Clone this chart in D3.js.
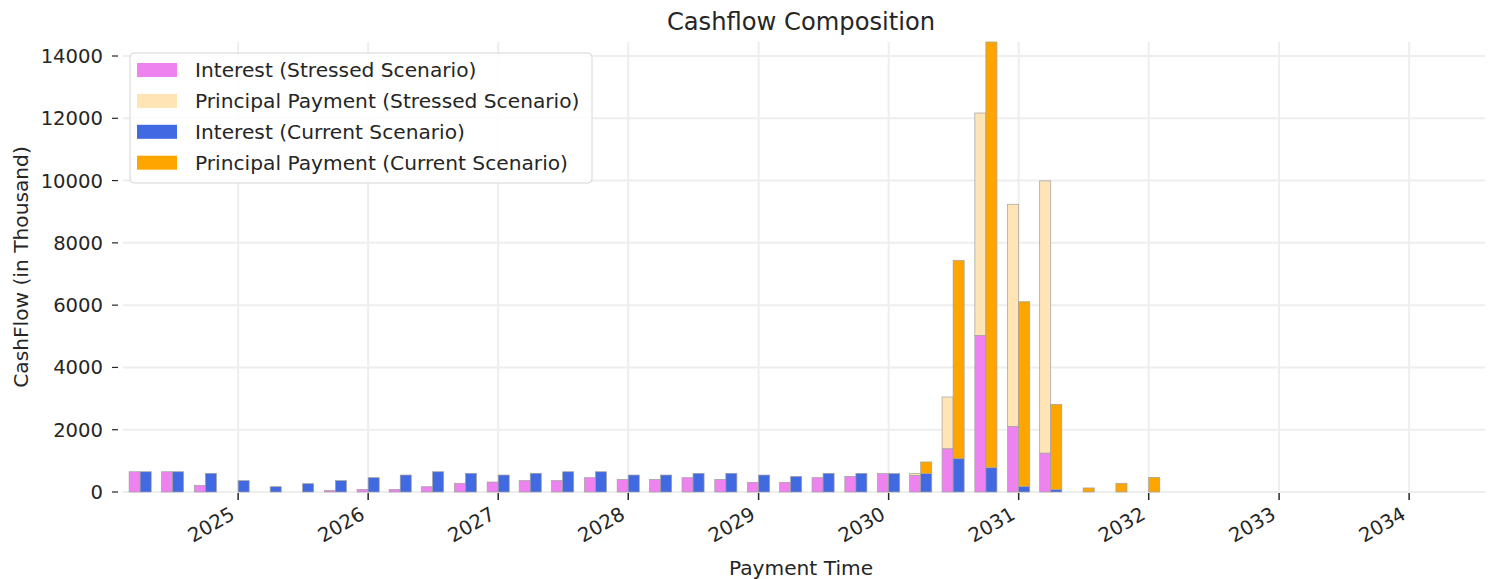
<!DOCTYPE html>
<html>
<head>
  <title>Cashflow Composition</title>
  <style>
    body { margin: 0; background: #fff; }
    svg text { font-family: "DejaVu Sans", sans-serif; fill: #262626; }
  </style>
</head>
<body>
<div id="chart"></div>
<script type="text/javascript" src="https://cdn.jsdelivr.net/npm/d3@7/dist/d3.min.js"></script>
<script type="text/javascript">
// quarterly payment dates
var paymentDates = ["2024-04-01", "2024-07-01", "2024-10-01", "2025-01-01",
                    "2025-04-01", "2025-07-01", "2025-10-01", "2026-01-01",
                    "2026-04-01", "2026-07-01", "2026-10-01", "2027-01-01",
                    "2027-04-01", "2027-07-01", "2027-10-01", "2028-01-01",
                    "2028-04-01", "2028-07-01", "2028-10-01", "2029-01-01",
                    "2029-04-01", "2029-07-01", "2029-10-01", "2030-01-01",
                    "2030-04-01", "2030-07-01", "2030-10-01", "2031-01-01",
                    "2031-04-01", "2031-07-01", "2031-10-01", "2032-01-01"];

// values in thousand
var stressedInterest  = [650, 650, 215, 0, 0, 0, 50, 85, 85, 170, 280, 320,
                         365, 365, 460, 405, 405, 460, 405, 310, 310, 460, 500, 590,
                         535, 1390, 5030, 2110, 1250, 0, 0, 0];
var stressedPrincipal = [0, 0, 0, 0, 0, 0, 0, 0, 0, 0, 0, 0,
                         0, 0, 0, 0, 0, 0, 0, 0, 0, 0, 0, 0,
                         55, 1660, 7140, 7130, 8740, 0, 0, 0];
var currentInterest   = [650, 650, 600, 365, 170, 267, 365, 460, 545, 650, 600, 545,
                         600, 650, 650, 545, 545, 600, 600, 545, 500, 600, 600, 590,
                         590, 1070, 780, 180, 75, 0, 0, 0];
var currentPrincipal  = [0, 0, 0, 0, 0, 0, 0, 0, 0, 0, 0, 0,
                         0, 0, 0, 0, 0, 0, 0, 0, 0, 0, 0, 0,
                         375, 6370, 13670, 5930, 2740, 130, 280, 470];

var yTicks = [0, 2000, 4000, 6000, 8000, 10000, 12000, 14000];
var xTickYears = [2025, 2026, 2027, 2028, 2029, 2030, 2031, 2032, 2033, 2034];

var seriesNames = ["Interest (Stressed Scenario)", "Principal Payment (Stressed Scenario)",
                   "Interest (Current Scenario)", "Principal Payment (Current Scenario)"];
var seriesColors = ["violet", "moccasin", "royalblue", "orange"];

var w = 1492;
var h = 579;
var plotLeft = 117, plotRight = 1485, plotTop = 42, plotBottom = 492;
var barDays = 31;
var dayMs = 24 * 3600 * 1000;

var svg = d3.select("#chart")
            .append("svg")
            .attr("width", w)
            .attr("height", h);

var x = d3.scaleUtc()
          .domain([new Date(Date.UTC(2024, 0, 27)), new Date(Date.UTC(2034, 7, 2))])
          .range([plotLeft, plotRight]);

var y = d3.scaleLinear()
          .domain([0, 14450])
          .range([plotBottom, plotTop]);

var yearDate = function (d) { return new Date(Date.UTC(d, 0, 1)); };

var dataset = paymentDates.map(function (d, i) {
  return {
    date: new Date(d + "T00:00:00Z"),
    si: stressedInterest[i],
    sp: stressedPrincipal[i],
    ci: currentInterest[i],
    cp: currentPrincipal[i]
  };
});

// grid
var grid = svg.append("g");
grid.selectAll(".hgrid")
    .data(yTicks)
    .enter()
    .append("line")
    .attr("x1", 123)
    .attr("x2", plotRight)
    .attr("y1", function (d) { return y(d); })
    .attr("y2", function (d) { return y(d); })
    .attr("stroke", "#eeeeee")
    .attr("stroke-width", 2);

grid.selectAll(".vgrid")
    .data(xTickYears)
    .enter()
    .append("line")
    .attr("x1", function (d) { return x(yearDate(d)); })
    .attr("x2", function (d) { return x(yearDate(d)); })
    .attr("y1", plotTop)
    .attr("y2", plotBottom)
    .attr("stroke", "#eeeeee")
    .attr("stroke-width", 2);

// bars: stressed on the left of the date, current on the right
function addBars(cls, x0, x1, y0, y1, color) {
  svg.selectAll("rect." + cls)
     .data(dataset)
     .enter()
     .append("rect")
     .attr("class", cls)
     .attr("x", function (d) { return x(x0(d)); })
     .attr("width", function (d) { return x(x1(d)) - x(x0(d)); })
     .attr("y", function (d) { return y(y1(d)); })
     .attr("height", function (d) { return y(y0(d)) - y(y1(d)); })
     .attr("fill", color)
     .attr("stroke", "#a0a0a0")
     .attr("stroke-width", 0.7);
}

var before = function (d) { return new Date(d.date.getTime() - barDays * dayMs); };
var at = function (d) { return d.date; };
var after = function (d) { return new Date(d.date.getTime() + barDays * dayMs); };

addBars("si", before, at, function (d) { return 0; }, function (d) { return d.si; }, seriesColors[0]);
addBars("sp", before, at, function (d) { return d.si; }, function (d) { return d.si + d.sp; }, seriesColors[1]);
addBars("ci", at, after, function (d) { return 0; }, function (d) { return d.ci; }, seriesColors[2]);
addBars("cp", at, after, function (d) { return d.ci; }, function (d) { return d.ci + d.cp; }, seriesColors[3]);

// y axis
svg.selectAll(".ytick")
   .data(yTicks)
   .enter()
   .append("line")
   .attr("x1", 112)
   .attr("x2", 118)
   .attr("y1", function (d) { return y(d); })
   .attr("y2", function (d) { return y(d); })
   .attr("stroke", "#262626")
   .attr("stroke-width", 1.2);

svg.selectAll(".ylabel")
   .data(yTicks)
   .enter()
   .append("text")
   .text(function (d) { return d; })
   .attr("x", 103)
   .attr("y", function (d) { return y(d); })
   .attr("dy", "0.36em")
   .attr("text-anchor", "end")
   .attr("font-size", "19.6px");

// x axis
svg.selectAll(".xtick")
   .data(xTickYears)
   .enter()
   .append("line")
   .attr("x1", function (d) { return x(yearDate(d)); })
   .attr("x2", function (d) { return x(yearDate(d)); })
   .attr("y1", 493)
   .attr("y2", 500)
   .attr("stroke", "#262626")
   .attr("stroke-width", 1.5);

svg.selectAll(".xlabel")
   .data(xTickYears)
   .enter()
   .append("text")
   .text(function (d) { return d; })
   .attr("text-anchor", "end")
   .attr("font-size", "19.6px")
   .attr("transform", function (d) {
     var px = x(yearDate(d)) - 2;
     return "translate(" + px + ",518) rotate(-30)";
   });

// titles
svg.append("text")
   .text("Cashflow Composition")
   .attr("x", (plotLeft + plotRight) / 2)
   .attr("y", 30)
   .attr("text-anchor", "middle")
   .attr("font-size", "24.2px");

svg.append("text")
   .text("Payment Time")
   .attr("x", (plotLeft + plotRight) / 2)
   .attr("y", 575)
   .attr("text-anchor", "middle")
   .attr("font-size", "20.2px");

svg.append("text")
   .text("CashFlow (in Thousand)")
   .attr("text-anchor", "middle")
   .attr("font-size", "20.2px")
   .attr("transform", "translate(28," + ((plotTop + plotBottom) / 2) + ") rotate(-90)");

// legend
var legend = svg.append("g");
legend.append("rect")
      .attr("x", 130)
      .attr("y", 53)
      .attr("width", 462)
      .attr("height", 130)
      .attr("rx", 4)
      .attr("fill", "white")
      .attr("fill-opacity", 0.85)
      .attr("stroke", "#d6d6d6");

legend.selectAll(".lpatch")
      .data(seriesNames)
      .enter()
      .append("rect")
      .attr("x", 137)
      .attr("y", function (d, i) { return 63 + i * 30.9; })
      .attr("width", 40)
      .attr("height", 14)
      .attr("fill", function (d, i) { return seriesColors[i]; });

legend.selectAll(".ltext")
      .data(seriesNames)
      .enter()
      .append("text")
      .text(function (d) { return d; })
      .attr("x", 195)
      .attr("y", function (d, i) { return 77.3 + i * 30.9; })
      .attr("font-size", "20.2px");
</script>
</body>
</html>
